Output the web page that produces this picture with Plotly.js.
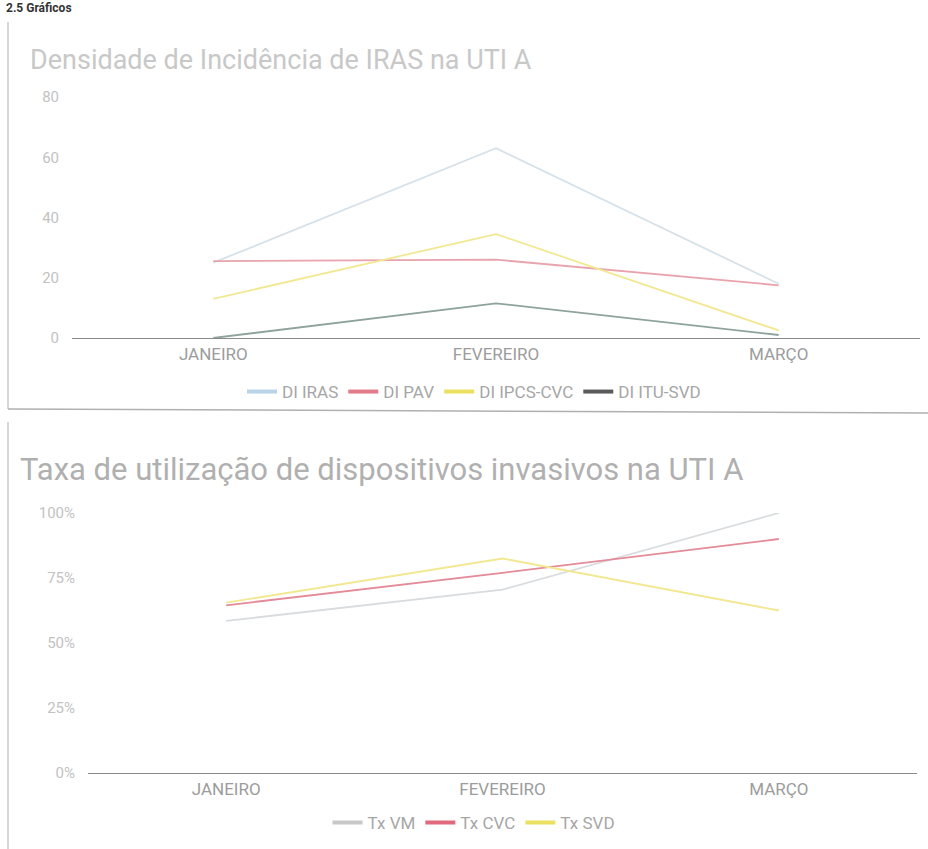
<!DOCTYPE html>
<html>
<head>
<meta charset="utf-8">
<script src="https://cdn.plot.ly/plotly-3.0.1.min.js"></script>
<style>html,body{margin:0;padding:0;background:#fff;}#chart{width:928px;height:849px;}</style>
</head>
<body>
<div id="chart"></div>
<script>
// ---- data ----
const months = ['JANEIRO', 'FEVEREIRO', 'MARÇO'];
const densityNames = ['DI IRAS', 'DI PAV', 'DI IPCS-CVC', 'DI ITU-SVD'];
const diIras = [25, 63, 18];
const diPav = [25.5, 26, 17.5];
const diIpcsCvc = [13, 34.5, 2.5];
const diItuSvd = [0, 11.5, 1];
const densityTicks = [0, 20, 40, 60, 80];

const rateNames = ['Tx VM', 'Tx CVC', 'Tx SVD'];
const txVm = [58.5, 70.5, 100];
const txCvc = [64.5, 77, 90];
const txSvd = [65.5, 82.5, 62.5];
const rateTicks = [0, 25, 50, 75, 100];

const titleTop = 'Densidade de Incidência de IRAS na UTI A';
const titleBottom = 'Taxa de utilização de dispositivos invasivos na UTI A';
const header = '2.5 Gráficos';

// ---- styling ----
const W = 928, H = 849;
const px = v => v / W;
const py = v => 1 - v / H;
const FONT = 'Roboto, Arial, sans-serif';

const densityColors = ['#d6e1e9', '#e8a3ad', '#f2e891', '#8ea39e'];
const densityLegend = ['#b9d3e8', '#e37a88', '#ece060', '#5a5a5a'];
const rateColors = ['#d8dcdf', '#e48a98', '#f2e891'];
const rateLegend = ['#c8c8c8', '#e06a7c', '#ece060'];

const traces = [];
const dSeries = [diIras, diPav, diIpcsCvc, diItuSvd];
dSeries.forEach((s, i) => {
  traces.push({x: months, y: s, type: 'scatter', mode: 'lines', name: densityNames[i],
    line: {color: densityColors[i], width: 1.8}, showlegend: false, xaxis: 'x', yaxis: 'y', hoverinfo: 'skip'});
});
dSeries.forEach((s, i) => {
  traces.push({x: [null], y: [null], type: 'scatter', mode: 'lines', name: densityNames[i],
    line: {color: densityLegend[i], width: 4},
    showlegend: true, legend: 'legend', xaxis: 'x', yaxis: 'y'});
});
const rSeries = [txVm, txCvc, txSvd];
rSeries.forEach((s, i) => {
  traces.push({x: months, y: s, type: 'scatter', mode: 'lines', name: rateNames[i],
    line: {color: rateColors[i], width: 1.8}, showlegend: false, xaxis: 'x2', yaxis: 'y2', hoverinfo: 'skip'});
});
rSeries.forEach((s, i) => {
  traces.push({x: [null], y: [null], type: 'scatter', mode: 'lines', name: rateNames[i],
    line: {color: rateLegend[i], width: 4},
    showlegend: true, legend: 'legend2', xaxis: 'x2', yaxis: 'y2'});
});

const xCommon = {
  type: 'category', range: [-0.5, 2.5], showgrid: false, zeroline: false,
  showline: false, ticks: '', tickfont: {family: FONT, size: 17, color: '#9c9c9c'},
  ticklabelstandoff: 4, fixedrange: true
};
const yCommon = {
  showgrid: false, showline: false, ticks: '', zeroline: true, zerolinecolor: '#8a8a8a', zerolinewidth: 1,
  tickfont: {family: FONT, size: 15, color: '#c2c2c2'}, ticklabelstandoff: 12, fixedrange: true
};

const layout = {
  width: W, height: H,
  margin: {l: 0, r: 0, t: 0, b: 0},
  paper_bgcolor: '#ffffff', plot_bgcolor: 'rgba(0,0,0,0)',
  font: {family: FONT},
  xaxis: Object.assign({}, xCommon, {domain: [px(72), px(920)], anchor: 'y'}),
  yaxis: Object.assign({}, yCommon, {domain: [py(338), py(97)], range: [0, 80], tickvals: densityTicks, anchor: 'x'}),
  xaxis2: Object.assign({}, xCommon, {domain: [px(88), px(917)], anchor: 'y2'}),
  yaxis2: Object.assign({}, yCommon, {domain: [py(773), py(513)], range: [0, 100], tickvals: rateTicks,
    ticktext: rateTicks.map(v => v + '%'), anchor: 'x2'}),
  legend: {orientation: 'h', x: px(474), xanchor: 'center', y: py(392), yanchor: 'middle',
    font: {family: FONT, size: 17, color: '#a6a6a6'}, bgcolor: 'rgba(0,0,0,0)', itemclick: false, itemwidth: 30},
  legend2: {orientation: 'h', x: px(474), xanchor: 'center', y: py(823), yanchor: 'middle',
    font: {family: FONT, size: 17, color: '#a6a6a6'}, bgcolor: 'rgba(0,0,0,0)', itemclick: false, itemwidth: 30},
  annotations: [
    {text: titleTop, xref: 'paper', yref: 'paper', x: px(28), y: py(60), xanchor: 'left', yanchor: 'middle',
      showarrow: false, font: {family: FONT, size: 27, color: '#c8c8c8'}},
    {text: titleBottom, xref: 'paper', yref: 'paper', x: px(18), y: py(469), xanchor: 'left', yanchor: 'middle',
      showarrow: false, font: {family: FONT, size: 31, color: '#b0b0b0'}},
    {text: '<b>' + header + '</b>', xref: 'paper', yref: 'paper', x: px(4), y: py(8), xanchor: 'left', yanchor: 'middle',
      showarrow: false, font: {family: FONT, size: 12, color: '#333333'}}
  ],
  shapes: [
    {type: 'line', xref: 'paper', yref: 'paper', x0: px(8), x1: px(8), y0: py(22), y1: py(409), line: {color: '#c8c8c8', width: 1.5}},
    {type: 'line', xref: 'paper', yref: 'paper', x0: px(8), x1: px(928), y0: py(409), y1: py(413), line: {color: '#b0b0b0', width: 1.5}},
    {type: 'line', xref: 'paper', yref: 'paper', x0: px(8), x1: px(8), y0: py(422), y1: py(849), line: {color: '#c8c8c8', width: 1.5}}
  ]
};

Plotly.newPlot('chart', traces, layout, {displayModeBar: false, staticPlot: true});
</script>
</body>
</html>
